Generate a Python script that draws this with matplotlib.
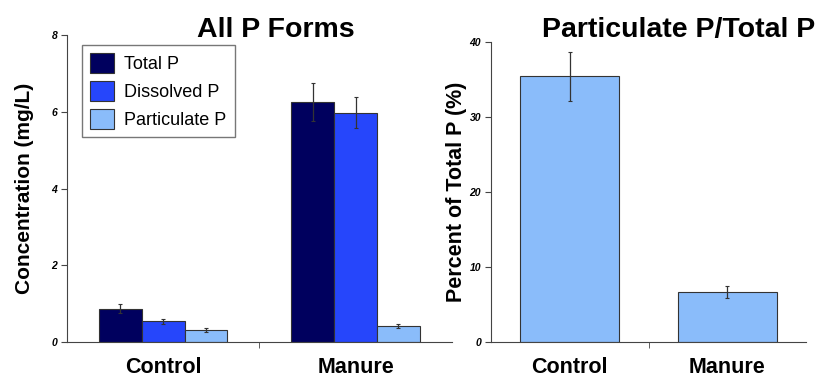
import numpy as np
import matplotlib.pyplot as plt
from matplotlib.ticker import FixedLocator

plt.rcParams['font.family'] = ['Liberation Sans', 'DejaVu Sans']

# Data
groups = ["Control", "Manure"]
forms = ["Total P", "Dissolved P", "Particulate P"]
conc = {
    "Total P": [0.87, 6.25],
    "Dissolved P": [0.54, 5.98],
    "Particulate P": [0.32, 0.41],
}
conc_err = {
    "Total P": [0.12, 0.50],
    "Dissolved P": [0.06, 0.40],
    "Particulate P": [0.05, 0.05],
}
pct = [35.4, 6.7]
pct_err = [3.3, 0.8]

colors = {"Total P": "#00005e", "Dissolved P": "#2646fb", "Particulate P": "#8abcfa"}

fig = plt.figure(figsize=(8.22, 3.79), dpi=100)

# Left panel: all P forms
ax1 = fig.add_axes([0.0815, 0.0976, 0.468, 0.810])
x = np.arange(len(groups))
w = 0.222
for i, f in enumerate(forms):
    ax1.bar(x + (i - 1) * w, conc[f], w, color=colors[f], edgecolor="#333333",
            linewidth=0.8, label=f, yerr=conc_err[f],
            error_kw=dict(ecolor="#333333", elinewidth=0.9, capsize=1.5, capthick=0.8))
ax1.set_xlim(-0.5, 1.5)
ax1.set_ylim(0, 8)
ax1.set_yticks([0, 2, 4, 6, 8])
ax1.set_ylabel("Concentration (mg/L)", fontsize=15, fontweight="bold", labelpad=12.5)
leg = ax1.legend(loc="upper left", bbox_to_anchor=(0.039, 0.967), fontsize=13,
                 frameon=True, fancybox=False, edgecolor="#555555",
                 handlelength=1.3, handleheight=1.3, handletextpad=0.6,
                 labelspacing=0.45, borderpad=0.45, borderaxespad=0)
leg.get_frame().set_linewidth(1.0)

# Right panel: particulate fraction
ax2 = fig.add_axes([0.597, 0.0976, 0.384, 0.7916])
ax2.bar(x, pct, 0.63, color="#8abcfa", edgecolor="#333333", linewidth=0.8,
        yerr=pct_err, error_kw=dict(ecolor="#333333", elinewidth=0.9, capsize=1.5, capthick=0.8))
ax2.set_xlim(-0.5, 1.5)
ax2.set_ylim(0, 40)
ax2.set_yticks([0, 10, 20, 30, 40])
ax2.set_ylabel("Percent of Total P (%)", fontsize=15.5, fontweight="bold", labelpad=2)

for ax in (ax1, ax2):
    ax.spines["top"].set_visible(False)
    ax.spines["right"].set_visible(False)
    ax.spines["left"].set_color("#444444")
    ax.spines["bottom"].set_color("#444444")
    ax.set_xticks(x)
    ax.set_xticklabels(groups, fontsize=15.5, fontweight="bold")
    ax.xaxis.set_minor_locator(FixedLocator([0.5]))
    ax.tick_params(axis="x", which="major", length=0, pad=11)
    ax.tick_params(axis="x", which="minor", length=4, color="#444444")
    ax.tick_params(axis="y", length=4, color="#444444", labelsize=7.5, pad=3)
    for t in ax.get_yticklabels():
        t.set_fontweight("bold")
        t.set_fontstyle("italic")

fig.text(0.336, 0.92, "All P Forms", fontsize=20.5, fontweight="bold", ha="center", va="center")
fig.text(0.825, 0.92, "Particulate P/Total P", fontsize=20.5, fontweight="bold", ha="center", va="center")

fig.savefig("out.png", dpi=100)
